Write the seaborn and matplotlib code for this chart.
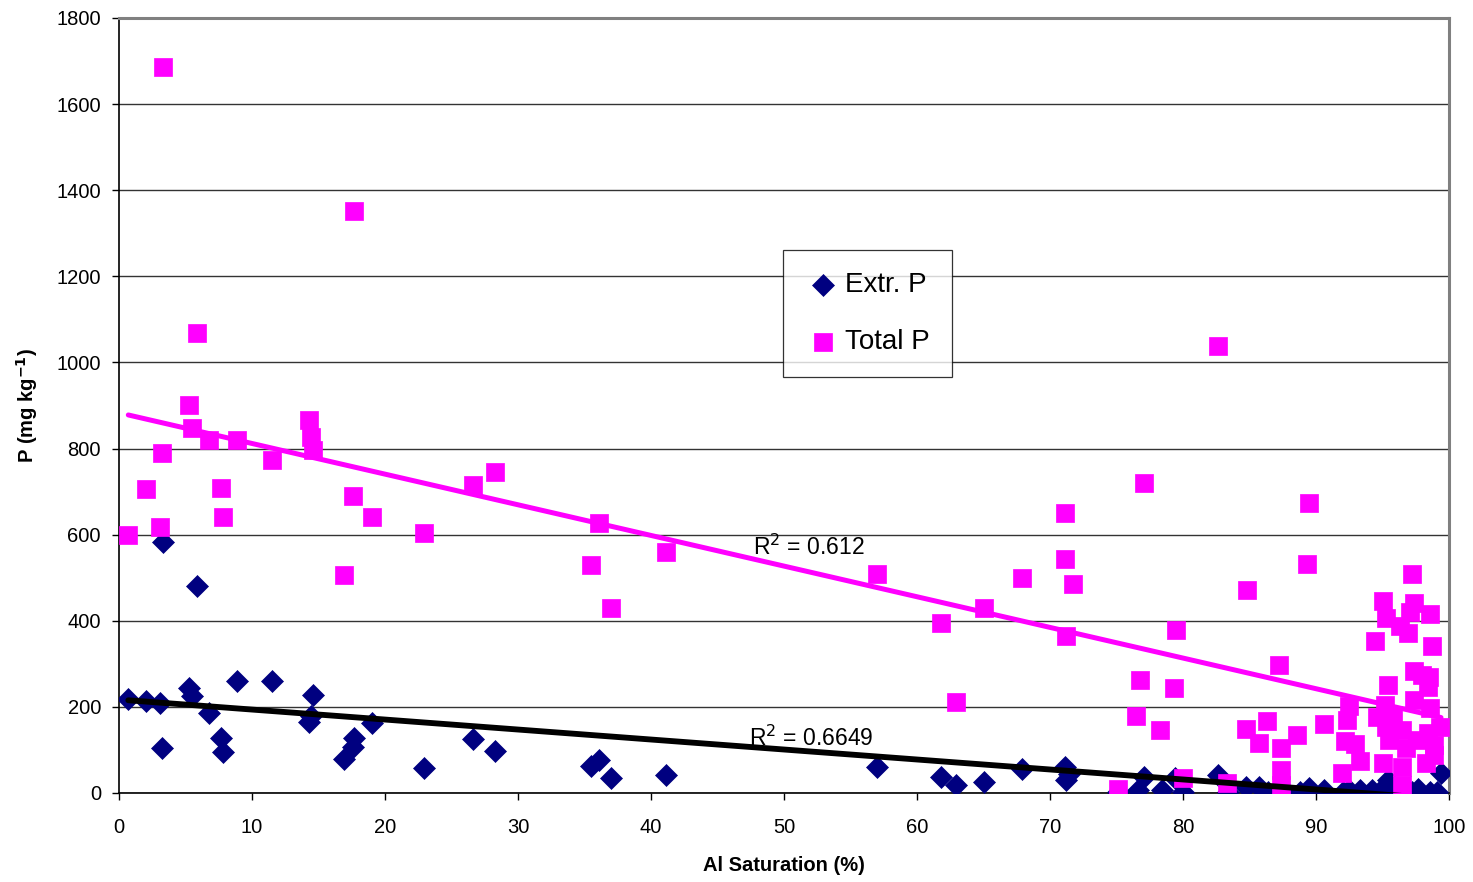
import numpy as np
import pandas as pd
import matplotlib
matplotlib.use("Agg")
import matplotlib.pyplot as plt
import seaborn as sns

# ---- Data ----
extr_x = [0.7, 2.0, 3.1, 3.2, 3.3, 5.3, 5.5, 5.9, 6.8, 7.7, 7.8, 8.9, 11.5, 14.3, 14.4, 14.6,
          16.9, 17.6, 17.7, 19.0, 22.9, 26.6, 28.3, 35.5, 36.1, 37.0, 41.1, 57.0, 61.8, 62.9,
          65.0, 67.9, 71.1, 71.2, 71.4, 75.1, 76.6, 77.1, 78.4, 79.4, 80.0, 82.6, 83.4, 84.7,
          85.7, 86.4, 87.5, 88.8, 89.5, 90.6, 92.0, 92.5, 93.3, 94.2, 95.1, 95.4, 96.2, 97.2,
          97.7, 98.6, 99.1, 99.4]
extr_y = [218, 214, 209, 105, 583, 244, 225, 481, 186, 128, 95, 260, 260, 165, 179, 228,
          79, 107, 128, 163, 58, 125, 98, 63, 77, 35, 42, 60, 37, 19,
          26, 56, 60, 30, 45, 2, 7, 37, 7, 35, 2, 42, 2, 14,
          14, 3, 2, 2, 12, 6, 2, 8, 6, 8, 15, 30, 3, 2,
          10, 2, 3, 47]

total_x = [0.7, 2.0, 3.1, 3.2, 3.3, 5.3, 5.5, 5.9, 6.8, 7.7, 7.8, 8.9, 11.5, 14.3, 14.4, 14.6,
           16.9, 17.6, 17.7, 19.0, 22.9, 26.6, 28.3, 35.5, 36.1, 37.0, 41.1, 57.0, 61.8, 62.9,
           65.0, 67.9, 71.1, 71.1, 71.2, 71.7, 75.1, 76.5, 76.8, 77.1, 78.3, 79.3, 79.5, 80.0,
           82.6, 83.3, 84.7, 84.8, 85.7, 86.3, 87.2, 87.4, 87.4, 87.4, 88.6, 89.3, 89.5, 90.6,
           91.95, 92.2, 92.3, 92.5, 92.9, 93.3, 94.4, 94.6, 95.0, 95.3, 95.2, 95.4, 95.0, 95.3,
           95.5, 95.8, 96.3, 96.5, 96.5, 96.5, 96.8, 96.9, 97.1, 97.2, 97.4, 97.4, 97.4, 97.6,
           98.0, 98.3, 98.4, 98.4, 98.5, 98.6, 98.6, 98.7, 98.9, 98.9, 99.3]
total_y = [600, 706, 618, 790, 1686, 901, 848, 1068, 820, 708, 641, 820, 773, 866, 827, 797,
           506, 690, 1352, 641, 604, 715, 745, 530, 627, 430, 560, 509, 395, 211,
           430, 499, 650, 543, 365, 485, 10, 179, 262, 720, 146, 244, 379, 35,
           1038, 23, 149, 471, 116, 167, 297, 105, 53, 19, 135, 532, 673, 160,
           46, 121, 170, 202, 114, 74, 353, 176, 446, 406, 204, 251, 70, 153,
           123, 181, 388, 146, 60, 19, 105, 372, 420, 509, 441, 283, 216, 123,
           274, 70, 246, 139, 269, 416, 197, 341, 111, 88, 153]

# Linear trendlines as shown on the chart (intercept, slope)
trend_extr = [217.0, -2.32]
trend_total = [883.0, -7.12]
trend_x = [0.7, 99.4]

series_names = ["Extr. P", "Total P"]
r2_labels = ["R$^2$ = 0.6649", "R$^2$ = 0.612"]
x_ticks = list(range(0, 101, 10))
y_ticks = list(range(0, 1801, 200))

extr = pd.DataFrame({"x": extr_x, "y": extr_y})
total = pd.DataFrame({"x": total_x, "y": total_y})
tx = np.array(trend_x)
fit_extr = pd.DataFrame({"x": tx, "y": trend_extr[0] + trend_extr[1] * tx})
fit_total = pd.DataFrame({"x": tx, "y": trend_total[0] + trend_total[1] * tx})

# ---- Style ----
sns.set_theme(style="white")
plt.rcParams["font.family"] = ["Liberation Sans", "DejaVu Sans"]
plt.rcParams["text.color"] = "black"
plt.rcParams["axes.labelcolor"] = "black"
plt.rcParams["xtick.color"] = "black"
plt.rcParams["ytick.color"] = "black"

fig = plt.figure(figsize=(14.73, 8.82), dpi=100)
ax = fig.add_axes([119 / 1473, 1 - 793 / 882, 1330 / 1473, 775 / 882])

navy = "#000080"
pink = "#FF00FF"

sns.scatterplot(data=extr, x="x", y="y", ax=ax, marker="D", s=125, color=navy,
                edgecolor=navy, linewidth=0.5, label=series_names[0], zorder=3)
sns.scatterplot(data=total, x="x", y="y", ax=ax, marker="s", s=150, color=pink,
                edgecolor=pink, linewidth=0.5, label=series_names[1], zorder=4)

sns.lineplot(data=fit_extr, x="x", y="y", ax=ax, color="black", lw=4.2, zorder=5,
             legend=False)
sns.lineplot(data=fit_total, x="x", y="y", ax=ax, color=pink, lw=3.6, zorder=5,
             legend=False)

ax.set_xlim(0, 100)
ax.set_ylim(0, 1800)
ax.set_xticks(x_ticks)
ax.set_yticks(y_ticks)
ax.tick_params(axis="both", labelsize=14.5, direction="out", length=5, width=1,
               color="black", labelcolor="black", bottom=True, left=True)
ax.tick_params(axis="x", pad=13)
ax.tick_params(axis="y", pad=8)

ax.yaxis.grid(True, color="#333333", lw=1.0)
ax.set_axisbelow(True)
for s in ["left", "bottom"]:
    ax.spines[s].set_color("black")
    ax.spines[s].set_linewidth(1.2)
for s in ["top", "right"]:
    ax.spines[s].set_color("#808080")
    ax.spines[s].set_linewidth(2.2)

ax.set_xlabel("Al Saturation (%)", fontsize=14.5, fontweight="bold", labelpad=14,
              color="black")
ax.set_ylabel("P (mg kg$^{\\mathbf{-1}}$)", fontsize=14.5, fontweight="bold",
              labelpad=12, color="black")

ax.text(47.7, 571, r2_labels[1], fontsize=16.5, ha="left", va="center", zorder=6,
        color="black")
ax.text(47.4, 128, r2_labels[0], fontsize=16.5, ha="left", va="center", zorder=6,
        color="black")

leg = ax.legend(loc="upper left", bbox_to_anchor=(0.499, 0.7006), frameon=True,
                fancybox=False, edgecolor="black", fontsize=20, labelspacing=1.1,
                handletextpad=0.15, borderpad=0.8, handlelength=1.3, borderaxespad=0)
leg.get_frame().set_linewidth(0.9)
for t in leg.get_texts():
    t.set_color("black")

fig.savefig("out.png", dpi=100)
